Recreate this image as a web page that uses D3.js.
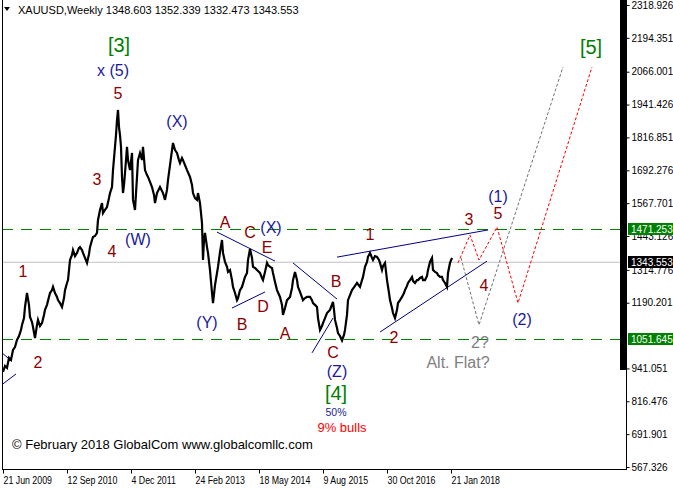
<!DOCTYPE html>
<html><head><meta charset="utf-8">
<script src="https://cdn.jsdelivr.net/npm/d3@7"></script>
<style>
body{margin:0;background:#fff;}
svg{display:block;font-family:"Liberation Sans",Arial,sans-serif;}
</style>
</head><body>
<svg id="chart" width="673" height="490"></svg>
<script>
// ---------- DATA ----------
// weekly XAUUSD path: [week index, price]
const priceSeries = [[0,928],[2,950],[4,943],[6,981],[8,973],[10,1011],[12,1022],[14,1049],[16,1064],[18,1087],[19,1106],[21,1132],[22,1174],[24,1227],[26,1182],[27,1136],[29,1117],[30,1098],[32,1056],[34,1106],[35,1125],[37,1102],[39,1113],[41,1144],[42,1163],[44,1182],[47,1227],[49,1238],[50,1250],[52,1227],[54,1212],[55,1200],[57,1189],[59,1174],[61,1208],[62,1238],[64,1265],[65,1276],[67,1352],[69,1371],[70,1390],[72,1367],[74,1379],[76,1398],[77,1401],[79,1390],[80,1379],[82,1360],[84,1341],[86,1375],[87,1401],[89,1428],[90,1439],[92,1443],[94,1455],[95,1504],[97,1542],[99,1568],[100,1530],[102,1542],[104,1553],[106,1587],[107,1606],[109,1629],[110,1693],[112,1781],[113,1826],[114,1883],[115,1921],[116,1856],[117,1826],[118,1781],[119,1667],[120,1606],[121,1637],[122,1682],[123,1731],[124,1781],[125,1731],[127,1693],[129,1758],[130,1580],[132,1542],[134,1667],[135,1731],[137,1758],[139,1731],[140,1781],[142,1693],[144,1674],[145,1667],[147,1648],[149,1629],[151,1599],[152,1568],[154,1606],[157,1629],[160,1606],[162,1580],[164,1618],[165,1655],[167,1712],[169,1769],[170,1796],[172,1769],[174,1758],[176,1731],[177,1720],[179,1739],[180,1731],[182,1712],[184,1693],[187,1667],[189,1637],[190,1606],[192,1587],[194,1580],[195,1606],[197,1568],[199,1492],[200,1352],[201,1428],[202,1455],[204,1401],[205,1379],[207,1314],[209,1227],[210,1189],[212,1257],[214,1303],[215,1326],[217,1382],[219,1428],[220,1379],[222,1345],[224,1326],[225,1307],[227,1314],[229,1276],[230,1250],[232,1227],[234,1200],[235,1208],[237,1238],[239,1250],[242,1288],[244,1303],[245,1352],[247,1394],[249,1360],[250,1326],[252,1322],[254,1314],[257,1303],[259,1284],[260,1276],[262,1307],[264,1341],[265,1333],[267,1326],[269,1322],[270,1303],[272,1269],[274,1238],[277,1212],[279,1182],[280,1144],[282,1170],[284,1200],[287,1212],[289,1246],[290,1276],[292,1307],[294,1276],[295,1250],[297,1231],[300,1200],[302,1208],[304,1212],[307,1212],[309,1200],[310,1189],[312,1182],[314,1174],[315,1132],[317,1087],[319,1102],[320,1113],[322,1132],[324,1151],[327,1163],[330,1193],[331,1163],[332,1125],[334,1094],[335,1075],[337,1064],[339,1047],[341,1068],[342,1087],[344,1144],[345,1200],[347,1219],[349,1238],[352,1254],[354,1265],[357,1250],[359,1276],[360,1288],[362,1326],[364,1345],[365,1364],[367,1379],[369,1360],[370,1352],[372,1367],[374,1364],[376,1352],[377,1341],[379,1314],[380,1329],[382,1341],[384,1276],[386,1227],[387,1200],[389,1170],[390,1151],[392,1132],[394,1163],[395,1189],[397,1200],[399,1212],[401,1227],[402,1238],[404,1254],[405,1265],[407,1276],[409,1288],[410,1273],[412,1265],[414,1276],[415,1276],[417,1284],[419,1288],[420,1276],[422,1276],[424,1292],[425,1314],[427,1345],[429,1360],[430,1314],[432,1307],[434,1303],[435,1295],[437,1288],[439,1288],[440,1276],[442,1265],[444,1250],[445,1303],[447,1341],[449,1360]];

const headerSymbol = "XAUUSD,Weekly";
const headerOHLC = ["1348.603", "1352.339", "1332.473", "1343.553"];

const yTickValues = [2318.926, 2194.351, 2066.001, 1941.426, 1816.851, 1692.276, 1567.701, 1443.126, 1314.776, 1190.201, 941.051, 816.476, 691.901, 567.326];
const xTickWeeks = [0, 64, 128, 192, 256, 320, 384, 448];
const xTickLabels = ["21 Jun 2009", "12 Sep 2010", "4 Dec 2011", "24 Feb 2013", "18 May 2014", "9 Aug 2015", "30 Oct 2016", "21 Jan 2018"];

const levelUpper = 1471.253;
const levelLower = 1051.645;
const lastPrice = 1343.553;

// trend lines: [[week, price],[week, price]]
const trendLines = [
  [[-3, 1007], [6, 977]],
  [[-3, 874], [13, 920]],
  [[214, 1458], [272, 1348]],
  [[229, 1170], [262, 1231]],
  [[290, 1341], [334, 1204]],
  [[309, 1000], [330, 1132]],
  [[334, 1363], [485, 1466]],
  [[377, 1079], [484, 1348]]
];

const redProjection = [[455, 1341], [467, 1447], [476, 1352], [494, 1477], [515, 1189], [589, 2084]];
const grayProjection = [[458, 1360], [476, 1106], [560, 2084]];

// wave labels: [text, week, price, kind]
const waveLabels = [
  ["[3]", 116, 2167, "green"],
  ["x (5)", 110, 2072, "blue"],
  ["5", 115, 1985, "red"],
  ["(X)", 174, 1879, "blue"],
  ["3", 94, 1659, "red"],
  ["(W)", 135, 1428, "blue"],
  ["4", 109, 1386, "red"],
  ["1", 20, 1307, "red"],
  ["2", 35, 962, "red"],
  ["A", 222, 1496, "red"],
  ["C", 247, 1455, "red"],
  ["(X)", 268, 1477, "blue"],
  ["E", 264, 1401, "red"],
  ["D", 260, 1174, "red"],
  ["B", 239, 1106, "red"],
  ["(Y)", 204, 1117, "blue"],
  ["A", 282, 1075, "red"],
  ["B", 333, 1269, "red"],
  ["C", 330, 1003, "red"],
  ["(Z)", 334, 928, "blue"],
  ["[4]", 333, 848, "green"],
  ["50%", 333, 774, "small"],
  ["9% bulls", 339, 717, "bulls"],
  ["1", 367, 1447, "red"],
  ["2", 391, 1060, "red"],
  ["3", 466, 1504, "red"],
  ["4", 481, 1257, "red"],
  ["(1)", 495, 1591, "blue"],
  ["5", 495, 1530, "red"],
  ["(2)", 519, 1125, "blue"],
  ["2?", 477, 1041, "gray"],
  ["Alt. Flat?", 455, 965, "gray"],
  ["[5]", 588, 2160, "green"]
];
const copyrightText = "\u00A9 February 2018 GlobalCom www.globalcomllc.com";

// ---------- STYLE / LAYOUT ----------
const W = 673, H = 490;
const plot = {left: 2, right: 620, top: 0, bottom: 469};
const axisX = 626;
const labelStyles = {
  red:   {fill: "#8B0000", size: 16},
  blue:  {fill: "#1A1A9A", size: 16},
  green: {fill: "#008000", size: 20},
  gray:  {fill: "#808080", size: 16},
  small: {fill: "#1A1A9A", size: 10.5},
  bulls: {fill: "#FF0000", size: 13}
};

const svg = d3.select("#chart");
const x = d3.scaleLinear().domain([0, 1]).range([3, 4]);
const y = d3.scaleLinear().domain([567.326, 2318.926]).range([467, 5]);

svg.append("defs").append("clipPath").attr("id", "clip")
  .append("rect").attr("x", plot.left).attr("y", 0).attr("width", plot.right - plot.left).attr("height", plot.bottom);

const g = svg.append("g").attr("clip-path", "url(#clip)");

// last price gray line
g.append("line").attr("x1", plot.left).attr("x2", axisX).attr("y1", y(lastPrice)).attr("y2", y(lastPrice))
  .attr("stroke", "#C0C0C0").attr("stroke-width", 1);

// green dashed levels
[levelUpper, levelLower].forEach(v => {
  g.append("line").attr("x1", plot.left).attr("x2", plot.right).attr("y1", Math.round(y(v)) + 0.5).attr("y2", Math.round(y(v)) + 0.5)
    .attr("stroke", "#008000").attr("stroke-width", 1).attr("stroke-dasharray", "11,8");
});

// trend lines
const lineGen = d3.line().x(d => x(d[0])).y(d => y(d[1]));
trendLines.forEach(t => {
  g.append("path").attr("d", lineGen(t)).attr("fill", "none").attr("stroke", "#000080").attr("stroke-width", 1);
});

// projections
g.append("path").attr("d", lineGen(grayProjection)).attr("fill", "none")
  .attr("stroke", "#707070").attr("stroke-width", 1).attr("stroke-dasharray", "3,2");
g.append("path").attr("d", lineGen(redProjection)).attr("fill", "none")
  .attr("stroke", "#FF0000").attr("stroke-width", 1).attr("stroke-dasharray", "3,2");

// price path
g.append("path").attr("d", lineGen(priceSeries)).attr("fill", "none")
  .attr("stroke", "#000").attr("stroke-width", 2.2).attr("stroke-linejoin", "miter");

// wave labels
svg.append("g").selectAll("text").data(waveLabels).join("text")
  .attr("x", d => x(d[1])).attr("y", d => y(d[2]))
  .attr("text-anchor", "middle").attr("dominant-baseline", "central")
  .attr("font-size", d => labelStyles[d[3]].size)
  .attr("fill", d => labelStyles[d[3]].fill)
  .text(d => d[0]);

// copyright
svg.append("text").attr("x", 12).attr("y", 449).attr("font-size", 13).attr("fill", "#000").text(copyrightText);

// frame: left and bottom
svg.append("line").attr("x1", plot.left + 0.5).attr("x2", plot.left + 0.5).attr("y1", 0).attr("y2", plot.bottom + 0.5).attr("stroke", "#000");
svg.append("line").attr("x1", plot.left).attr("x2", axisX + 1).attr("y1", plot.bottom + 0.5).attr("y2", plot.bottom + 0.5).attr("stroke", "#000");

// right black bar + axis
svg.append("rect").attr("x", plot.right).attr("y", 0).attr("width", axisX - plot.right + 1).attr("height", 370).attr("fill", "#000");
const yAxis = d3.axisRight(y).tickValues(yTickValues).tickSize(3).tickPadding(2).tickFormat(d3.format(".3f"));
const ya = svg.append("g").attr("transform", `translate(${axisX + 0.5},0)`).call(yAxis);
ya.select(".domain").attr("d", `M0,0V${plot.bottom + 0.5}`);
ya.selectAll("text").attr("font-size", 10).attr("font-family", "Liberation Sans, Arial, sans-serif").attr("fill", "#000");

// price tags
function tag(v, color) {
  const yy = Math.round(y(v));
  svg.append("rect").attr("x", axisX + 2).attr("y", yy - 6).attr("width", W - axisX - 2).attr("height", 12).attr("fill", color);
  svg.append("text").attr("x", axisX + 5).attr("y", yy).attr("dominant-baseline", "central")
    .attr("font-size", 10).attr("fill", "#fff").text(d3.format(".3f")(v));
}
tag(lastPrice, "#000");
tag(levelUpper, "#008000");
tag(levelLower, "#008000");

// x axis
const xAxis = d3.axisBottom(x).tickValues(xTickWeeks).tickSize(4).tickPadding(3).tickFormat((d, i) => xTickLabels[i]);
const xa = svg.append("g").attr("transform", `translate(0,${plot.bottom + 0.5})`).call(xAxis);
xa.select(".domain").remove();
xa.selectAll("text").attr("text-anchor", "start").attr("font-size", 10).attr("font-family", "Liberation Sans, Arial, sans-serif").attr("fill", "#000")
  .attr("lengthAdjust", "spacingAndGlyphs")
  .attr("textLength", function() { return this.getComputedTextLength() * 0.88; });

// header
svg.append("path").attr("d", "M4,7 L10,7 L7,11 Z").attr("fill", "#000");
svg.append("text").attr("x", 18).attr("y", 14).attr("font-size", 11).attr("fill", "#000")
  .text(headerSymbol + "  " + headerOHLC.join(" "));
</script>
</body></html>
